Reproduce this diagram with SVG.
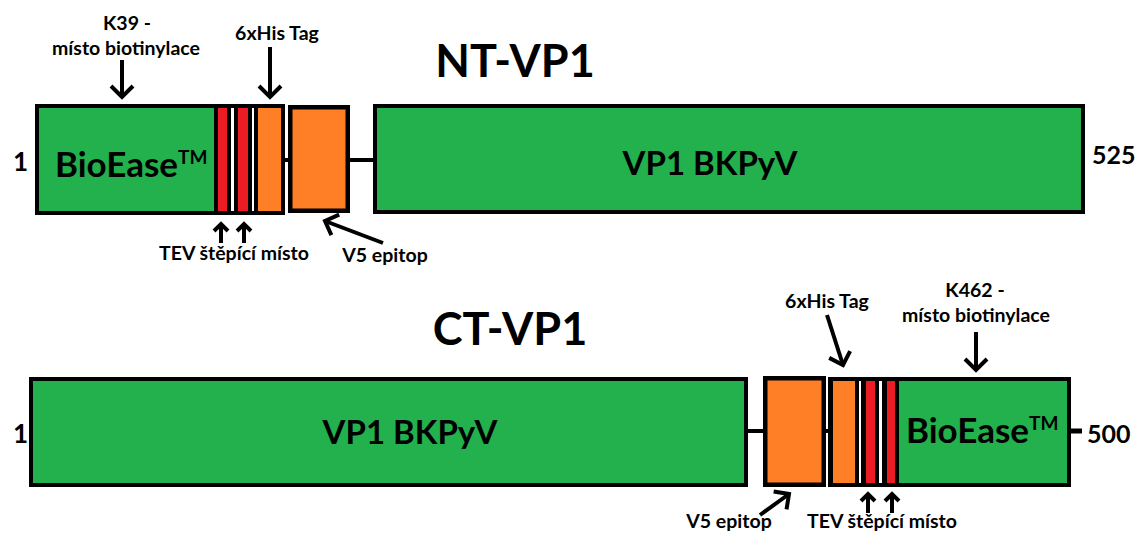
<svg xmlns="http://www.w3.org/2000/svg" width="1139" height="534" viewBox="0 0 1139 534">
<style>
.t{font-family:Lato,"Liberation Sans",sans-serif;font-weight:bold;fill:#000}
.lbl{font-size:19.5px}
.num{font-size:25px}
.one{font-size:26px}
.title{font-size:45px}
.big{font-size:33px}
.bio{font-size:35px}
.tm{font-size:19px}
.g{fill:#22B14C}
.o{fill:#FF7F27}
.r{fill:#ED1C24}
.w{fill:#fff}
.k{fill:#000}
.ln{stroke:#000;stroke-width:4;fill:none}
.ar{stroke:#000;stroke-width:4;fill:none;marker-end:url(#ah)}
.as{stroke:#000;stroke-width:4;fill:none;marker-end:url(#as)}
</style>
<defs>
<marker id="ah" markerUnits="userSpaceOnUse" markerWidth="40" markerHeight="40" viewBox="-20 -20 40 40" refX="0" refY="0" orient="auto">
<path d="M-11,-11 L0,0 L-11,11" fill="none" stroke="#000" stroke-width="4"/>
</marker>
<marker id="as" markerUnits="userSpaceOnUse" markerWidth="30" markerHeight="30" viewBox="-15 -15 30 30" refX="0" refY="0" orient="auto">
<path d="M-7,-7 L0,0 L-7,7" fill="none" stroke="#000" stroke-width="4"/>
</marker>
</defs>
<rect width="1139" height="534" fill="#fff"/>

<!-- NT-VP1 -->
<text class="t title" x="515" y="77" text-anchor="middle">NT-VP1</text>
<text class="t one" x="13" y="171">1</text>
<text class="t num" x="1092" y="164">525</text>

<g id="nt-bioease">
<rect class="k" x="35" y="104" width="250" height="111"/>
<rect class="g" x="39" y="108" width="175" height="103"/>
<rect class="r" x="218" y="108" width="9" height="103"/>
<rect class="w" x="231" y="108" width="3" height="103"/>
<rect class="r" x="238" y="108" width="10" height="103"/>
<rect class="w" x="252" y="108" width="2" height="103"/>
<rect class="o" x="258" y="108" width="23" height="103"/>
<text class="t bio" x="55" y="177">BioEase<tspan class="tm" dy="-13">TM</tspan></text>
</g>
<g id="nt-v5">
<rect class="k" x="288" y="105" width="62" height="108"/>
<rect class="o" x="292.5" y="109.5" width="53" height="99"/>
</g>
<g id="nt-vp1">
<rect class="k" x="373" y="104" width="712" height="110"/>
<rect class="g" x="377" y="108" width="704" height="102"/>
<text class="t big" x="710" y="175" text-anchor="middle">VP1 BKPyV</text>
</g>

<!-- CT-VP1 -->
<text class="t title" x="510" y="345" text-anchor="middle">CT-VP1</text>
<text class="t one" x="13" y="443">1</text>
<text class="t num" x="1087" y="443">500</text>

<g id="ct-vp1">
<rect class="k" x="29" y="377" width="719" height="110"/>
<rect class="g" x="33" y="381" width="711" height="102"/>
<text class="t big" x="410" y="444" text-anchor="middle">VP1 BKPyV</text>
</g>
<g id="ct-v5">
<rect class="k" x="763" y="376" width="63" height="111"/>
<rect class="o" x="767.5" y="380.5" width="54" height="102"/>
</g>
<g id="ct-bioease">
<rect class="k" x="828" y="377" width="243" height="110"/>
<rect class="o" x="833" y="381" width="22" height="102"/>
<rect class="w" x="859" y="381" width="2" height="102"/>
<rect class="r" x="866" y="381" width="9" height="102"/>
<rect class="w" x="879" y="381" width="3" height="102"/>
<rect class="r" x="887" y="381" width="8" height="102"/>
<rect class="g" x="899" y="381" width="168" height="102"/>
<text class="t bio" x="906" y="443">BioEase<tspan class="tm" dy="-13">TM</tspan></text>
</g>

<!-- labels -->
<text class="t lbl" x="127" y="30" text-anchor="middle">K39 -</text>
<text class="t lbl" x="126" y="55" text-anchor="middle">místo biotinylace</text>
<text class="t lbl" x="277" y="40" text-anchor="middle">6xHis Tag</text>
<text class="t lbl" x="234" y="260" text-anchor="middle">TEV štěpící místo</text>
<text class="t lbl" x="385" y="262" text-anchor="middle">V5 epitop</text>

<text class="t lbl" x="975" y="297" text-anchor="middle">K462 -</text>
<text class="t lbl" x="976" y="322" text-anchor="middle">místo biotinylace</text>
<text class="t lbl" x="827" y="308" text-anchor="middle">6xHis Tag</text>
<text class="t lbl" x="882" y="528" text-anchor="middle">TEV štěpící místo</text>
<text class="t lbl" x="729" y="528" text-anchor="middle">V5 epitop</text>

<g id="connectors">
<line class="ln" x1="285" y1="160" x2="288" y2="160"/>
<line class="ln" x1="350" y1="160" x2="373" y2="160"/>
<line class="ln" x1="748" y1="431" x2="763" y2="431"/>
<line class="ln" x1="826" y1="431" x2="828" y2="431"/>
<line class="ln" x1="1071" y1="431" x2="1082" y2="431" style="stroke-width:5"/>

<line class="ar" x1="122" y1="60" x2="122" y2="97"/>
<line class="ar" x1="270" y1="47" x2="270" y2="97"/>
<line class="as" x1="221" y1="243" x2="221" y2="224"/>
<line class="as" x1="244" y1="243" x2="244" y2="224"/>
<line class="ar" x1="383" y1="243" x2="325" y2="221"/>

<line class="ar" x1="976" y1="332" x2="976" y2="370"/>
<line class="ar" x1="827" y1="315" x2="843" y2="365"/>
<line class="as" x1="868" y1="513" x2="868" y2="494"/>
<line class="as" x1="892" y1="513" x2="892" y2="494"/>
<line class="ar" x1="760" y1="515" x2="789" y2="494"/>
</g>
</svg>
